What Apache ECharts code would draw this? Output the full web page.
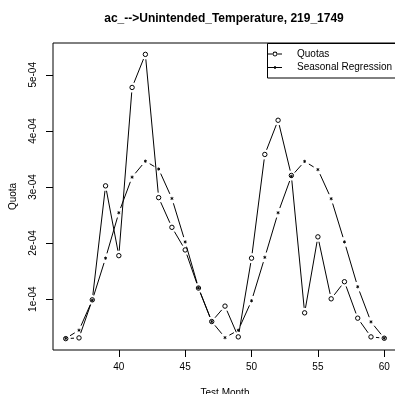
<!DOCTYPE html>
<html>
<head>
<meta charset="utf-8">
<script src="https://cdn.jsdelivr.net/npm/echarts@6/dist/echarts.min.js"></script>
<style>
html,body{margin:0;padding:0;background:#fff;overflow:hidden;}
#chart{width:395px;height:394px;}
</style>
</head>
<body>
<div id="chart"></div>
<script>
// ---- data ----
var months = [36,37,38,39,40,41,42,43,44,45,46,47,48,49,50,51,52,53,54,55,56,57,58,59,60];
var quotas = [2.95e-5,3.08e-5,9.87e-5,3.02e-4,1.775e-4,4.775e-4,5.365e-4,2.81e-4,2.28e-4,1.877e-4,1.197e-4,6.0e-5,8.75e-5,3.26e-5,1.73e-4,3.58e-4,4.19e-4,3.205e-4,7.55e-5,2.11e-4,1.005e-4,1.31e-4,6.6e-5,3.26e-5,3.02e-5];
var seasonal = [3.0e-5,4.45e-5,9.8e-5,1.73e-4,2.54e-4,3.175e-4,3.46e-4,3.32e-4,2.795e-4,2.02e-4,1.2e-4,6.0e-5,3.13e-5,4.45e-5,9.7e-5,1.745e-4,2.54e-4,3.19e-4,3.456e-4,3.31e-4,2.79e-4,2.02e-4,1.22e-4,5.94e-5,3.02e-5];
var xTicks = [40,45,50,55,60];
var yTicks = [1e-4,2e-4,3e-4,4e-4,5e-4];
var yTickLabels = ["1e-04","2e-04","3e-04","4e-04","5e-04"];
var seriesNames = ["Quotas","Seasonal Regression"];
var titleText = "ac_-->Unintended_Temperature, 219_1749";

// ---- R-like axis ranges (4% extension) ----
function rRange(arr){
  var mn = Math.min.apply(null, arr), mx = Math.max.apply(null, arr);
  var d = (mx - mn) * 0.04;
  return [mn - d, mx + d];
}
var xr = rRange(months);
var yr = rRange(quotas.concat(seasonal));

function rows(xs, ys){
  return xs.map(function(x, i){
    var j = Math.min(i + 1, xs.length - 1);
    return [x, ys[i], xs[j], ys[j]];
  });
}

var FONT = "'Liberation Sans', Arial, Helvetica, sans-serif";
var GAP = 5;

function makeRender(kind){
  return function(params, api){
    var p = api.coord([api.value(0), api.value(1)]);
    var q = api.coord([api.value(2), api.value(3)]);
    var children = [];
    var dx = q[0] - p[0], dy = q[1] - p[1];
    var d = Math.sqrt(dx*dx + dy*dy);
    if (d > 2*GAP) {
      children.push({type:'line', shape:{
        x1: p[0] + dx/d*GAP, y1: p[1] + dy/d*GAP,
        x2: q[0] - dx/d*GAP, y2: q[1] - dy/d*GAP
      }, style:{stroke:'#000', lineWidth:1}});
    }
    if (kind === 'circle') {
      children.push({type:'circle', shape:{cx:p[0], cy:p[1], r:2.2},
        style:{fill:'none', stroke:'#000', lineWidth:1}});
    } else {
      var L = 1.6;
      [90, 30, 150].forEach(function(a){
        var r = a*Math.PI/180;
        children.push({type:'line', shape:{
          x1:p[0]-Math.cos(r)*L, y1:p[1]-Math.sin(r)*L,
          x2:p[0]+Math.cos(r)*L, y2:p[1]+Math.sin(r)*L
        }, style:{stroke:'#000', lineWidth:0.9}});
      });
    }
    return {type:'group', children:children};
  };
}

var iconQ = 'path://M0,1.9H4.6V2.9H0Z M9.4,1.9H14V2.9H9.4Z M9.4,2.4A2.4,2.4,0,1,1,4.6,2.4A2.4,2.4,0,1,1,9.4,2.4Z M8.5,2.4A1.5,1.5,0,1,0,5.5,2.4A1.5,1.5,0,1,0,8.5,2.4Z';
var iconS = 'path://M0,1.5H14V2.5H0Z M6.3,0.4H7.7V3.6H6.3Z';

var chart = echarts.init(document.getElementById('chart'), null, {renderer:'canvas'});
chart.setOption({
  animation:false,
  backgroundColor:'#fff',
  color:['#000','#000'],
  title:{
    text:titleText, left:224, top:13, textAlign:'center', padding:0,
    textStyle:{fontFamily:FONT, fontSize:12, fontWeight:'bold', color:'#000'}
  },
  legend:[{
    data:[{name:seriesNames[0], icon:iconQ}],
    left:268, top:48, padding:0, itemWidth:14, itemHeight:4.8, selectedMode:false,
    textStyle:{fontFamily:FONT, fontSize:10, color:'#000', padding:[0,0,0,10], lineHeight:12}
  },{
    data:[{name:seriesNames[1], icon:iconS}],
    left:268, top:61.5, padding:0, itemWidth:14, itemHeight:4, selectedMode:false,
    textStyle:{fontFamily:FONT, fontSize:10, color:'#000', padding:[0,0,0,10], lineHeight:12}
  }],
  graphic:[{
    type:'rect', shape:{x:267.5, y:43.5, width:160, height:34.5},
    style:{fill:'none', stroke:'#000', lineWidth:1}, z:100, silent:true
  }],
  grid:{left:53, top:43, width:344, height:307, outerBoundsMode:'none', containLabel:false,
    show:true, borderColor:'#000', borderWidth:1, backgroundColor:'transparent'},
  xAxis:{
    type:'value', min:xr[0], max:xr[1],
    name:'Test Month', nameLocation:'middle', nameGap:38,
    nameTextStyle:{fontFamily:FONT, fontSize:10, color:'#000'},
    axisLine:{show:false},
    splitLine:{show:false},
    axisTick:{show:true, length:7, customValues:xTicks, lineStyle:{color:'#000'}},
    axisLabel:{customValues:xTicks, margin:12, fontFamily:FONT, fontSize:10, color:'#000'}
  },
  yAxis:{
    type:'value', min:yr[0], max:yr[1],
    name:'Quota', nameLocation:'middle', nameGap:35, nameRotate:90,
    nameTextStyle:{fontFamily:FONT, fontSize:10, color:'#000'},
    axisLine:{show:false},
    splitLine:{show:false},
    axisTick:{show:true, length:7, customValues:yTicks, lineStyle:{color:'#000'}},
    axisLabel:{customValues:yTicks, rotate:90, margin:15, fontFamily:FONT, fontSize:10, color:'#000',
      formatter:function(v){
        for (var i=0;i<yTicks.length;i++){ if (Math.abs(yTicks[i]-v) < 1e-9) return yTickLabels[i]; }
        return '';
      }}
  },
  series:[{
    name:seriesNames[0], type:'custom', renderItem:makeRender('circle'),
    data:rows(months, quotas), encode:{x:0, y:1}, itemStyle:{color:'#000'}
  },{
    name:seriesNames[1], type:'custom', renderItem:makeRender('star'),
    data:rows(months, seasonal), encode:{x:0, y:1}, itemStyle:{color:'#000'}
  }]
});
</script>
</body>
</html>
